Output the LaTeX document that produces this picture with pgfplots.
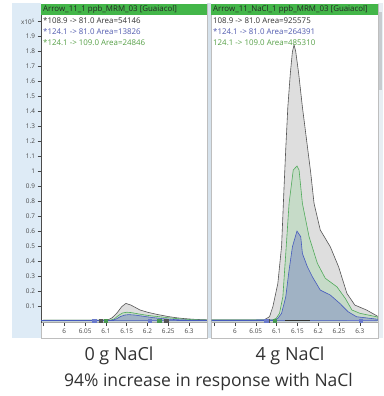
\documentclass[border=0pt]{standalone}
\usepackage{pgfplots}
\pgfplotsset{compat=1.18}
\usepackage{fontspec}
\setmainfont{Open Sans}
\definecolor{hdrgreen}{RGB}{67,182,73}
\definecolor{panelblue}{RGB}{222,235,246}
\definecolor{gapblue}{RGB}{214,226,236}
\definecolor{sbgray}{RGB}{232,238,243}
\definecolor{thumbgray}{RGB}{200,204,208}
\definecolor{framegray}{RGB}{190,190,190}
\definecolor{grayfill}{RGB}{222,222,222}
\definecolor{grayline}{RGB}{85,85,85}
\definecolor{greenfill}{RGB}{198,219,200}
\definecolor{greenline}{RGB}{80,170,90}
\definecolor{bluefill}{RGB}{160,178,196}
\definecolor{blueline}{RGB}{70,90,190}
\definecolor{legblue}{RGB}{80,90,175}
\definecolor{leggreen}{RGB}{85,160,70}
\definecolor{tickgray}{RGB}{70,70,70}
\definecolor{capgray}{RGB}{50,50,50}

% 0 g NaCl
\pgfplotstableread{
x y
5.944 0.003
6.080 0.004
6.105 0.006
6.115 0.020
6.126 0.050
6.138 0.094
6.148 0.116
6.160 0.105
6.172 0.087
6.182 0.072
6.200 0.057
6.222 0.043
6.250 0.028
6.270 0.020
6.286 0.015
6.310 0.010
6.326 0.008
6.343 0.006
}\lgray
\pgfplotstableread{
x y
5.944 0.003
6.110 0.004
6.120 0.012
6.130 0.035
6.140 0.052
6.150 0.057
6.160 0.055
6.180 0.045
6.200 0.036
6.225 0.028
6.250 0.020
6.280 0.012
6.310 0.007
6.343 0.005
}\lgreen
\pgfplotstableread{
x y
5.944 0.002
6.115 0.003
6.125 0.012
6.135 0.028
6.145 0.038
6.155 0.041
6.170 0.038
6.190 0.030
6.210 0.022
6.240 0.013
6.270 0.007
6.300 0.004
6.343 0.003
}\lblue
% 4 g NaCl
\pgfplotstableread{
x y
5.944 0.005
6.070 0.006
6.083 0.027
6.091 0.094
6.103 0.250
6.112 0.500
6.118 0.900
6.122 1.150
6.127 1.430
6.133 1.655
6.138 1.800
6.142 1.845
6.146 1.800
6.153 1.655
6.162 1.430
6.172 1.210
6.182 0.990
6.190 0.785
6.205 0.607
6.229 0.495
6.249 0.361
6.269 0.183
6.288 0.105
6.316 0.072
6.343 0.030
}\rgray
\pgfplotstableread{
x y
5.944 0.005
6.090 0.006
6.099 0.016
6.107 0.050
6.115 0.160
6.122 0.450
6.130 0.785
6.140 1.008
6.149 1.035
6.154 1.008
6.162 0.785
6.178 0.562
6.198 0.384
6.217 0.284
6.245 0.227
6.265 0.150
6.281 0.072
6.300 0.050
6.343 0.025
}\rgreen
\pgfplotstableread{
x y
5.944 0.004
6.095 0.005
6.103 0.016
6.112 0.050
6.122 0.160
6.130 0.339
6.138 0.495
6.149 0.600
6.158 0.562
6.162 0.450
6.174 0.361
6.186 0.294
6.205 0.205
6.229 0.172
6.252 0.116
6.272 0.060
6.292 0.027
6.343 0.010
}\rblue

\pgfplotsset{
  chrom/.style={
    scale only axis, width=166pt, height=307.7pt,
    xmin=5.944, xmax=6.343, ymin=-0.013, ymax=2.045,
    axis x line*=bottom,
    x axis line style={draw=gray!70, line width=1.2pt},
    xtick={5.95,6,6.05,6.1,6.15,6.2,6.25,6.3},
    xticklabels={,6,6.05,6.1,6.15,6.2,6.25,6.3},
    tick align=outside, major tick length=3.5pt,
    tick style={tickgray, line width=0.5pt},
    ticklabel style={font=\fontsize{6.4}{7.5}\selectfont, text=tickgray},
    xticklabel style={yshift=1pt},
    clip=true,
  },
}

\begin{document}
\begin{tikzpicture}[x=1pt,y=1pt]
\useasboundingbox (0,0) rectangle (383,396);
% backgrounds
\fill[panelblue] (12,58) rectangle (41,393);
\fill[gapblue] (207,58) rectangle (211,393);
\fill[sbgray] (378,58) rectangle (383,393);
\fill[thumbgray] (379,306) rectangle (382,384);
\fill[white] (41,58) rectangle (207,392);
\fill[white] (211,58) rectangle (378,392);
\draw[framegray, line width=0.6pt] (41,58) rectangle (207,392);
\draw[framegray, line width=0.6pt] (211,58) rectangle (378,392);
\fill[hdrgreen] (41,381) rectangle (207,392);
\fill[hdrgreen] (211,381) rectangle (378,392);

% left panel
\begin{axis}[chrom, at={(41pt,73.3pt)}, anchor=south west,
  axis y line*=left,
  y axis line style={draw=gray!60!black, line width=0.7pt},
  ytick={0.1,0.2,0.3,0.4,0.5,0.6,0.7,0.8,0.9,1.0,1.1,1.2,1.3,1.4,1.5,1.6,1.7,1.8,1.9,2.0},
  yticklabels={0.1,0.2,0.3,0.4,0.5,0.6,0.7,0.8,0.9,1,1.1,1.2,1.3,1.4,1.5,1.6,1.7,1.8,1.9,x10\textsuperscript{5}},
  yticklabel style={xshift=1pt},
]
\addplot[fill=grayfill, draw=grayline, line width=0.6pt] table {\lgray} \closedcycle;
\addplot[fill=greenfill, draw=greenline, line width=0.6pt] table {\lgreen} \closedcycle;
\addplot[fill=bluefill, draw=blueline, line width=0.6pt] table {\lblue} \closedcycle;
\addplot[only marks, mark=square*, mark size=1.6pt, color=blueline!80] coordinates {(6.072,0.0) (6.206,0.0)};
\addplot[only marks, mark=square*, mark size=1.6pt, color=grayline] coordinates {(6.088,0.0) (6.245,0.0)};
\addplot[only marks, mark=square*, mark size=1.6pt, color=greenline!90!black] coordinates {(6.100,0.0) (6.228,0.0)};
\end{axis}

% right panel
\begin{axis}[chrom, at={(211.7pt,73.3pt)}, anchor=south west,
  axis y line=none, ytick=\empty,
]
\addplot[fill=grayfill, draw=grayline, line width=0.6pt] table {\rgray} \closedcycle;
\addplot[fill=greenfill, draw=greenline, line width=0.6pt] table {\rgreen} \closedcycle;
\addplot[fill=bluefill, draw=blueline, line width=0.6pt] table {\rblue} \closedcycle;
\addplot[black!80, line width=1.4pt] coordinates {(6.12,0.0) (6.18,0.0)};
\addplot[blueline!80, line width=1.4pt] coordinates {(6.27,0.0) (6.335,0.0)};
\addplot[only marks, mark=square*, mark size=1.6pt, color=grayline] coordinates {(6.079,0.0)};
\addplot[only marks, mark=square*, mark size=1.6pt, color=blueline!80] coordinates {(6.075,0.0) (6.302,0.0)};
\addplot[only marks, mark=square*, mark size=1.6pt, color=greenline!90!black] coordinates {(6.095,0.0)};
\end{axis}

% header and legend texts
\begin{scope}[every node/.style={anchor=west, inner sep=0pt, font=\fontsize{7.9}{9}\selectfont}]
\node[text=black!85] at (43,386.5) {Arrow\_11\_1 ppb\_MRM\_03 [Guaiacol]};
\node[text=black!80] at (43,375) {*108.9 -> 81.0 Area=54146};
\node[text=legblue] at (43,364) {*124.1 -> 81.0 Area=13826};
\node[text=leggreen] at (43,353) {*124.1 -> 109.0 Area=24846};
\node[text=black!85] at (213,386.5) {Arrow\_11\_NaCl\_1 ppb\_MRM\_03 [Guaiacol]};
\node[text=black!80] at (213,375) {108.9 -> 81.0 Area=925575};
\node[text=legblue] at (213,364) {*124.1 -> 81.0 Area=264391};
\node[text=leggreen] at (213,353) {124.1 -> 109.0 Area=485310};
\end{scope}

% captions
\node[anchor=base, inner sep=0pt, font=\fontsize{18}{21}\selectfont, text=capgray] at (119,35.3) {0 g NaCl};
\node[anchor=base, inner sep=0pt, font=\fontsize{18}{21}\selectfont, text=capgray] at (290,35.3) {4 g NaCl};
\node[anchor=base, inner sep=0pt, font=\fontsize{17.5}{21}\selectfont, text=capgray] at (208.5,9.3) {94\% increase in response with NaCl};
\end{tikzpicture}
\end{document}
